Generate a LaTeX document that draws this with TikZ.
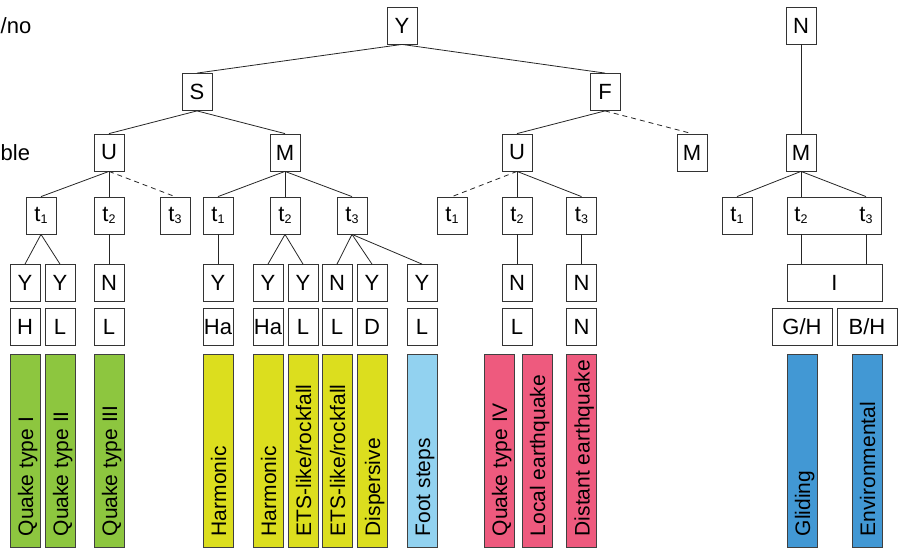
\documentclass[tikz,border=0pt]{standalone}
\usepackage{fontspec}
\setmainfont{Liberation Sans}
\usetikzlibrary{positioning}

\definecolor{quakegreen}{RGB}{141,198,63}
\definecolor{harmyellow}{RGB}{220,222,30}
\definecolor{footblue}{RGB}{146,210,240}
\definecolor{eqpink}{RGB}{238,90,126}
\definecolor{envblue}{RGB}{66,152,212}
\newcommand{\tsub}[1]{t\raisebox{-2.5pt}{\fontsize{12.5}{12.5}\selectfont #1}}

\begin{document}
\begin{tikzpicture}[x=1pt,y=-1pt,
		every node/.style={font=\fontsize{22}{26}\selectfont},
		box/.style={draw=black!80,line width=0.8pt,fill=white,minimum width=30pt,minimum height=37pt,inner sep=0pt},
		bar/.style={draw=black!75,line width=0.8pt,minimum width=30pt,minimum height=193pt,inner sep=0pt},
		bartext/.style={rotate=90,anchor=base west,inner sep=0pt,font=\fontsize{21}{25}\selectfont},
		link/.style={draw=black!85,line width=0.8pt},
		maybe/.style={link,dashed,dash pattern=on 5pt off 4pt}]
	\useasboundingbox (0,0) rectangle (898,549);

	% cut-off row labels
	\node[anchor=base west,inner sep=0pt] (lblno) at (0.5,33) {/no};
	\node[anchor=base west,inner sep=0pt] (lblvis) at (0.5,160) {ble};

	% upper levels
	\node[box] (rootY) at (402,25.5) {Y};
	\node[box] (rootN) at (801,25.5) {N};
	\node[box] (S) at (197,92) {S};
	\node[box] (F) at (605,92) {F};
	\node[box] (SU) at (109,152.5) {U};
	\node[box] (SM) at (285,152.5) {M};
	\node[box] (FU) at (517,152.5) {U};
	\node[box] (FM) at (692,152.5) {M};
	\node[box] (NM) at (801,152.5) {M};

	% time windows
	\node[box] (SUt1) at (41,215.5) {\tsub{1}};
	\node[box] (SUt2) at (109,215.5) {\tsub{2}};
	\node[box] (SUt3) at (175,215.5) {\tsub{3}};
	\node[box] (SMt1) at (218,215.5) {\tsub{1}};
	\node[box] (SMt2) at (285,215.5) {\tsub{2}};
	\node[box] (SMt3) at (352,215.5) {\tsub{3}};
	\node[box] (FUt1) at (452,215.5) {\tsub{1}};
	\node[box] (FUt2) at (517,215.5) {\tsub{2}};
	\node[box] (FUt3) at (581.5,215.5) {\tsub{3}};
	\node[box] (NMt1) at (737,215.5) {\tsub{1}};
	\node[box,minimum width=94pt] (NMt23) at (834,215.5) {};
	\node[inner sep=0pt] (NMt2) at (801,215.5) {\tsub{2}};
	\node[inner sep=0pt] (NMt3) at (866,215.5) {\tsub{3}};

	% answer rows
	\foreach \x/\txt [count=\i] in {25/Y,60/Y,109/N,218/Y,268/Y,303/Y,337/N,372/Y,422/Y,517/N,581.5/N}
		\node[box] (ans\i) at (\x,283) {\txt};
	\node[box,minimum width=95pt] (NI) at (834.5,283) {I};
	\foreach \x/\txt [count=\i] in {25/H,60/L,109/L,218/Ha,268/Ha,303/L,337/L,372/D,422/L,517/L,581.5/N}
		\node[box] (src\i) at (\x,327) {\txt};
	\node[box,minimum width=60pt] (GH) at (802,327) {G/H};
	\node[box,minimum width=60pt] (BH) at (867,327) {B/H};

	% classes
	\foreach \x/\col/\txt [count=\i] in {25/quakegreen/Quake type I,60/quakegreen/Quake type II,109/quakegreen/Quake type III,
			218/harmyellow/Harmonic,268/harmyellow/Harmonic,303/harmyellow/{ETS-like/rockfall},337/harmyellow/{ETS-like/rockfall},
			372/harmyellow/Dispersive,422/footblue/Foot steps,499/eqpink/Quake type IV,537/eqpink/Local earthquake,
			581.5/eqpink/Distant earthquake,802/envblue/Gliding,867/envblue/Environmental}{
		\node[bar,fill=\col] (cls\i) at (\x,450.5) {};
		\node[bartext] (clstxt\i) at ([xshift=8pt,yshift=11pt]cls\i.south) {\txt};
	}

	% connectors
	\draw[link] (rootY.south) -- (S.north);
	\draw[link] (rootY.south) -- (F.north);
	\draw[link] (rootN.south) -- (NM.north);
	\draw[link] (S.south) -- (SU.north);
	\draw[link] (S.south) -- (SM.north);
	\draw[link] (F.south) -- (FU.north);
	\draw[maybe] (F.south) -- (FM.north);
	\draw[link] (SU.south) -- (SUt1.north);
	\draw[link] (SU.south) -- (SUt2.north);
	\draw[maybe] (SU.south) -- (SUt3.north);
	\draw[link] (SM.south) -- (SMt1.north);
	\draw[link] (SM.south) -- (SMt2.north);
	\draw[link] (SM.south) -- (SMt3.north);
	\draw[maybe] (FU.south) -- (FUt1.north);
	\draw[link] (FU.south) -- (FUt2.north);
	\draw[link] (FU.south) -- (FUt3.north);
	\draw[link] (NM.south) -- (NMt1.north);
	\draw[link] (NM.south) -- (NMt2 |- NMt23.north);
	\draw[link] (NM.south) -- (NMt3 |- NMt23.north);
	\draw[link] (SUt1.south) -- (ans1.north);
	\draw[link] (SUt1.south) -- (ans2.north);
	\draw[link] (SUt2.south) -- (ans3.north);
	\draw[link] (SMt1.south) -- (ans4.north);
	\draw[link] (SMt2.south) -- (ans5.north);
	\draw[link] (SMt2.south) -- (ans6.north);
	\draw[link] (SMt3.south) -- (ans7.north);
	\draw[link] (SMt3.south) -- (ans8.north);
	\draw[link] (SMt3.south) -- (ans9.north);
	\draw[link] (FUt2.south) -- (ans10.north);
	\draw[link] (FUt3.south) -- (ans11.north);
	\draw[link] (NMt2 |- NMt23.south) -- (NMt2 |- NI.north);
	\draw[link] (NMt3 |- NMt23.south) -- (NMt3 |- NI.north);
\end{tikzpicture}
\end{document}
